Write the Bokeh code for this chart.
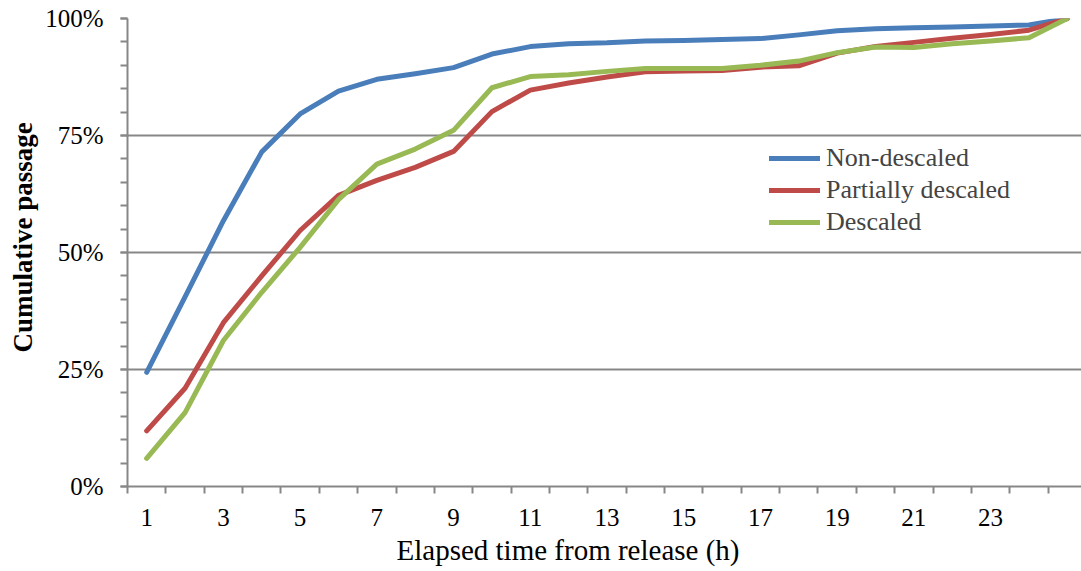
import math
from bokeh.plotting import figure
from bokeh.models import (FixedTicker, Range1d, Legend, LegendItem, Title)
from bokeh.embed import file_html
from bokeh.resources import INLINE

# ---- data ----
hours = list(range(1, 26))  # 25th category is the final (clipped) class
non_descaled = [24.4, 40.5, 56.8, 71.5, 79.6, 84.5, 87.0, 88.2, 89.5, 92.4, 94.0, 94.6,
                94.8, 95.2, 95.3, 95.5, 95.7, 96.5, 97.4, 97.8, 98.0, 98.2, 98.4, 98.6, 100.0]
partially_descaled = [11.9, 21.0, 35.0, 45.0, 54.7, 62.2, 65.4, 68.2, 71.6, 80.1, 84.7, 86.2,
                      87.5, 88.6, 88.8, 88.9, 89.6, 89.9, 92.6, 94.0, 94.9, 95.8, 96.6, 97.5, 100.0]
descaled = [6.0, 15.8, 31.2, 41.5, 51.1, 61.3, 68.9, 72.1, 76.1, 85.2, 87.6, 88.0,
            88.7, 89.3, 89.3, 89.3, 90.0, 90.9, 92.7, 93.9, 93.8, 94.6, 95.2, 95.9, 100.0]
series_names = ["Non-descaled", "Partially descaled", "Descaled"]
series_colors = ["#4A7EBB", "#BE4B48", "#98B954"]
x_tick_labels = ["1", "3", "5", "7", "9", "11", "13", "15", "17", "19", "21", "23"]
y_ticks = [0, 25, 50, 75, 100]
y_tick_labels = ["0%", "25%", "50%", "75%", "100%"]
x_title = "Elapsed time from release (h)"
y_title = "Cumulative passage"

FONT = "Liberation Serif"
GRAY = "#878787"

p = figure(width=1081, height=571, output_backend="svg", toolbar_location=None,
           x_range=Range1d(0.5, 25.37), y_range=Range1d(0, 100),
           min_border_left=127, min_border_right=0, min_border_top=18, min_border_bottom=85)
p.outline_line_color = None
p.background_fill_color = "white"
p.border_fill_color = "white"

# x axis: labels at odd categories, tick marks between categories
xt = [int(s) for s in x_tick_labels]
p.xaxis.ticker = FixedTicker(ticks=xt, minor_ticks=[h - 0.5 for h in hours])
p.xaxis.major_tick_out = 0
p.xaxis.major_tick_in = 0
p.xaxis.minor_tick_out = 7
p.xaxis.minor_tick_in = 0
p.xaxis.minor_tick_line_color = GRAY
p.xaxis.minor_tick_line_width = 2
p.xaxis.axis_line_color = GRAY
p.xaxis.axis_line_width = 2
p.xaxis.major_label_text_font = FONT
p.xaxis.major_label_text_font_size = "25px"
p.xaxis.major_label_text_color = "black"
p.xaxis.major_label_standoff = 15
p.xaxis.major_label_overrides = {t: s for t, s in zip(xt, x_tick_labels)}

# y axis
p.yaxis.ticker = FixedTicker(ticks=y_ticks, minor_ticks=list(range(0, 101, 5)))
p.yaxis.major_tick_out = 7
p.yaxis.major_tick_in = 0
p.yaxis.minor_tick_out = 7
p.yaxis.minor_tick_in = 0
p.yaxis.major_tick_line_color = GRAY
p.yaxis.minor_tick_line_color = GRAY
p.yaxis.major_tick_line_width = 2
p.yaxis.minor_tick_line_width = 2
p.yaxis.axis_line_color = GRAY
p.yaxis.axis_line_width = 2
p.yaxis.major_label_text_font = FONT
p.yaxis.major_label_text_font_size = "25px"
p.yaxis.major_label_text_color = "black"
p.yaxis.major_label_standoff = 17
p.yaxis.major_label_overrides = {t: s for t, s in zip(y_ticks, y_tick_labels)}

p.xgrid.visible = False
p.ygrid.grid_line_color = GRAY
p.ygrid.grid_line_width = 2

items = []
for name, col, vals in zip(series_names, series_colors, [non_descaled, partially_descaled, descaled]):
    r = p.line(hours, vals, line_color=col, line_width=5, line_join="round", line_cap="round")
    items.append(LegendItem(label=name, renderers=[r]))

legend = Legend(items=items, location=(642, 248), padding=0, margin=0, spacing=0,
                glyph_width=51, glyph_height=32, label_height=32, label_standoff=6,
                label_text_font=FONT, label_text_font_size="26px",
                border_line_color=None, background_fill_alpha=0)
p.add_layout(legend, "center")

# axis titles
p.add_layout(Title(text=x_title, align="left", offset=269, text_font=FONT,
                   text_font_size="29px", text_font_style="normal", text_color="black",
                   standoff=6), "below")
p.add_layout(Title(text=y_title, align="left", offset=134, text_font=FONT,
                   text_font_size="27px", text_font_style="bold", text_color="black",
                   standoff=9), "left")

open("out.html", "w").write(file_html(p, INLINE))
